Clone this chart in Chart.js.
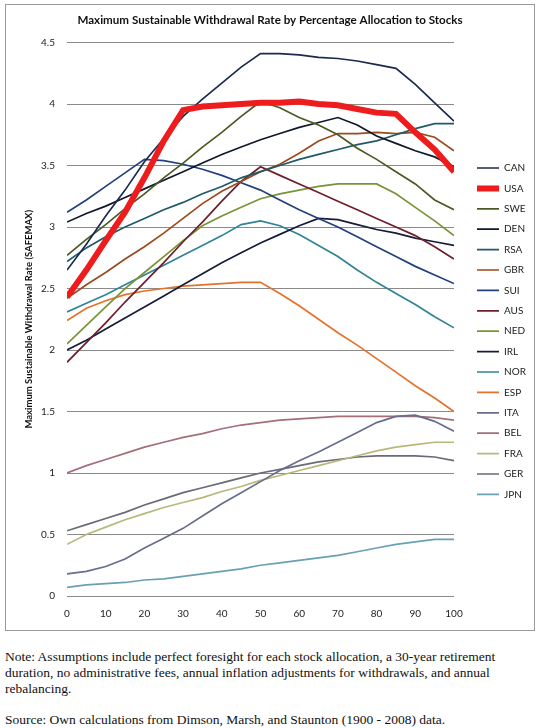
<!DOCTYPE html>
<html>
<head>
<meta charset="utf-8">
<script src="https://cdn.jsdelivr.net/npm/chart.js@4.4.1/dist/chart.umd.min.js"></script>
<style>
  html, body { margin: 0; padding: 0; background: #fff; width: 540px; height: 728px; overflow: hidden; }
  #frame { position: absolute; left: 5px; top: 4px; width: 528px; height: 625px; border: 1.5px solid #9a9a9a; }
  #wrap { position: absolute; left: 0; top: 0; width: 540px; height: 640px; }
  .note { position: absolute; left: 5px; font-family: "Liberation Serif", "Times New Roman", serif; font-size: 13.5px; line-height: 16px; color: #111; white-space: nowrap; }
</style>
</head>
<body>
<div id="frame"></div>
<div id="wrap"><canvas id="c"></canvas></div>
<div class="note" style="top:649px">Note: Assumptions include perfect foresight for each stock allocation, a 30-year retirement<br>duration, no administrative fees, annual inflation adjustments for withdrawals, and annual<br>rebalancing.</div>
<div class="note" style="top:712px">Source: Own calculations from Dimson, Marsh, and Staunton (1900 - 2008) data.</div>
<script>
// Percentage allocation to stocks (x values)
const allocations = [0,5,10,15,20,25,30,35,40,45,50,55,60,65,70,75,80,85,90,95,100];

// SAFEMAX by country
const CAN = [2.65,2.86,3.09,3.30,3.53,3.72,3.90,4.04,4.17,4.30,4.41,4.41,4.40,4.38,4.37,4.35,4.32,4.29,4.16,4.01,3.86];
const USA = [2.43,2.65,2.89,3.12,3.40,3.70,3.95,3.98,3.99,4.00,4.01,4.01,4.02,4.00,3.99,3.96,3.93,3.92,3.77,3.63,3.45];
const SWE = [2.77,2.90,3.02,3.15,3.27,3.40,3.52,3.65,3.77,3.90,4.02,3.97,3.89,3.83,3.75,3.64,3.55,3.45,3.35,3.22,3.14];
const DEN = [3.04,3.11,3.17,3.24,3.31,3.38,3.45,3.52,3.59,3.65,3.71,3.76,3.81,3.85,3.89,3.83,3.74,3.68,3.62,3.57,3.49];
const RSA = [2.72,2.83,2.92,3.00,3.07,3.14,3.20,3.27,3.33,3.40,3.45,3.50,3.55,3.59,3.63,3.67,3.70,3.75,3.80,3.84,3.84];
const GBR = [2.42,2.53,2.63,2.74,2.84,2.95,3.07,3.19,3.29,3.37,3.45,3.51,3.60,3.70,3.76,3.76,3.77,3.76,3.77,3.73,3.62];
const SUI = [3.12,3.22,3.33,3.44,3.55,3.54,3.51,3.47,3.42,3.36,3.30,3.22,3.14,3.07,3.00,2.92,2.84,2.76,2.68,2.61,2.54];
const AUS = [1.90,2.06,2.22,2.39,2.55,2.71,2.88,3.04,3.21,3.37,3.49,3.42,3.35,3.28,3.21,3.14,3.07,3.00,2.93,2.84,2.74];
const NED = [2.05,2.20,2.35,2.50,2.63,2.76,2.89,3.01,3.09,3.16,3.23,3.27,3.30,3.33,3.35,3.35,3.35,3.27,3.16,3.05,2.93];
const IRL = [2.00,2.08,2.17,2.26,2.35,2.44,2.53,2.62,2.71,2.79,2.87,2.94,3.01,3.07,3.06,3.02,2.98,2.95,2.91,2.88,2.85];
const NOR = [2.31,2.38,2.45,2.53,2.61,2.69,2.77,2.85,2.93,3.02,3.05,3.01,2.94,2.85,2.76,2.65,2.55,2.46,2.37,2.27,2.18];
const ESP = [2.24,2.34,2.40,2.45,2.48,2.50,2.52,2.53,2.54,2.55,2.55,2.46,2.36,2.25,2.14,2.04,1.93,1.82,1.71,1.61,1.50];
const ITA = [0.18,0.20,0.24,0.30,0.39,0.47,0.55,0.65,0.75,0.84,0.93,1.02,1.10,1.17,1.25,1.33,1.41,1.46,1.47,1.42,1.34];
const BEL = [1.00,1.06,1.11,1.16,1.21,1.25,1.29,1.32,1.36,1.39,1.41,1.43,1.44,1.45,1.46,1.46,1.46,1.46,1.46,1.45,1.43];
const FRA = [0.42,0.50,0.56,0.62,0.67,0.72,0.76,0.80,0.85,0.89,0.94,0.98,1.02,1.06,1.10,1.14,1.18,1.21,1.23,1.25,1.25];
const GER = [0.53,0.58,0.63,0.68,0.74,0.79,0.84,0.88,0.92,0.96,1.00,1.03,1.06,1.09,1.11,1.13,1.14,1.14,1.14,1.13,1.10];
const JPN = [0.07,0.09,0.10,0.11,0.13,0.14,0.16,0.18,0.20,0.22,0.25,0.27,0.29,0.31,0.33,0.36,0.39,0.42,0.44,0.46,0.46];

const countries = ['CAN','USA','SWE','DEN','RSA','GBR','SUI','AUS','NED','IRL','NOR','ESP','ITA','BEL','FRA','GER','JPN'];
const seriesValues = [CAN,USA,SWE,DEN,RSA,GBR,SUI,AUS,NED,IRL,NOR,ESP,ITA,BEL,FRA,GER,JPN];
const colors = ['#1b2a4e','#ee1c1c','#4b5a23','#10182c','#1f5b66','#9a4a1e','#23407e','#6e1f2b','#789436','#161c3a','#2f8498','#e4722a','#676d8c','#a46f79','#b8b87c','#6a6a78','#6aa0b4'];

const yMin = 0, yMax = 4.5, yStep = 0.5;
const xMin = 0, xMax = 100, xStep = 10;

const datasets = countries.map((name, i) => {
  const w = name === 'USA' ? 6 : 1.7;
  return {
    label: name,
    data: allocations.map((a, j) => ({ x: a, y: seriesValues[i][j] })),
    borderColor: colors[i],
    backgroundColor: colors[i],
    borderWidth: w,
    pointBorderWidth: w,
    pointRadius: 0,
    pointHoverRadius: 0,
    tension: 0,
    fill: false,
    order: name === 'USA' ? -1 : 0
  };
});

const legendPlacement = {
  id: 'legendPlacement',
  beforeLayout(chart) {
    const lg = chart.legend;
    if (lg && !lg.__patched) {
      const fit = lg.fit.bind(lg);
      lg.fit = function () { fit(); this.width = 86; };
      lg.__patched = true;
    }
  },
  afterLayout(chart) {
    const lg = chart.legend;
    const pad = lg.options.labels.padding;
    const left = 477 - pad;
    lg.right = left + lg.width;
    lg.left = left;
    lg.top = 40;
    lg.bottom = 622.4;
  }
};

new Chart(document.getElementById('c'), {
  type: 'line',
  data: { datasets },
  plugins: [legendPlacement],
  options: {
    responsive: true,
    maintainAspectRatio: false,
    animation: false,
    events: [],
    layout: { padding: { left: 0, right: 0, top: 0, bottom: 0 } },
    plugins: {
      title: {
        display: true,
        text: 'Maximum Sustainable Withdrawal Rate by Percentage Allocation to Stocks',
        color: '#111',
        font: { family: 'Lato', size: 11.6, weight: 'bold' },
        padding: { top: 13.5, bottom: 15.1 }
      },
      legend: {
        position: 'right',
        labels: {
          usePointStyle: true,
          pointStyle: 'line',
          pointStyleWidth: 22,
          padding: 10.4,
          color: '#222',
          font: { family: 'Lato', size: 10 },
          sort: (a, b) => a.datasetIndex - b.datasetIndex
        }
      },
      tooltip: { enabled: false }
    },
    scales: {
      x: {
        type: 'linear',
        min: xMin, max: xMax,
        afterFit(s) { s.height = 44; },
        grid: { display: false, drawTicks: false },
        border: { display: false },
        ticks: { stepSize: xStep, padding: 12, color: '#222', font: { family: 'Lato', size: 10 } }
      },
      y: {
        min: yMin, max: yMax,
        afterFit(s) { s.width = 67; },
        grid: { color: '#8a8a8a', lineWidth: 1, drawTicks: false },
        border: { display: false },
        ticks: { stepSize: yStep, padding: 12, color: '#222', font: { family: 'Lato', size: 10 }, callback: v => String(v) },
        title: {
          display: true,
          text: 'Maximum Sustainable Withdrawal Rate (SAFEMAX)',
          color: '#111',
          font: { family: 'Lato', size: 9.5, weight: 'bold' },
          padding: { top: 23.3, bottom: 0 }
        }
      }
    }
  }
});
</script>
</body>
</html>
